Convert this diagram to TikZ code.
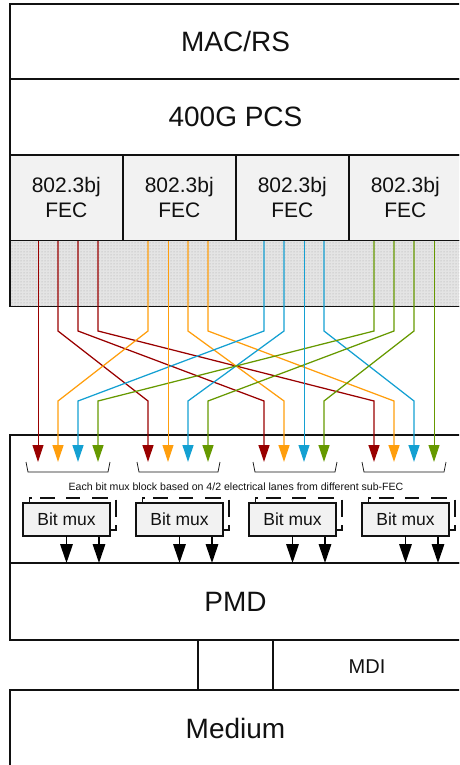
\documentclass[tikz,border=0pt]{standalone}
\usepackage{fontspec}
\setmainfont{Liberation Sans}
\usetikzlibrary{arrows.meta,calc,patterns}
\definecolor{boxgray}{HTML}{F2F2F2}
\definecolor{hatchgray}{HTML}{E4E4E4}
\definecolor{lred}{HTML}{990000}
\definecolor{lorange}{HTML}{FF9E0D}
\definecolor{lblue}{HTML}{14A0D2}
\definecolor{lgreen}{HTML}{669900}
\definecolor{inkc}{HTML}{111111}
\newcommand{\fs}[1]{\fontsize{#1}{#1}\selectfont}
\tikzset{
  blk/.style={draw=inkc,line width=1.7pt,rectangle,inner sep=0pt,outer sep=0pt,text=inkc,align=center},
  big/.style={font=\fs{28}},
  fec/.style={blk,fill=boxgray,minimum width=113pt,minimum height=85.5pt,font=\fontsize{21}{25}\selectfont},
  muxbox/.style={blk,fill=boxgray,minimum width=87pt,minimum height=33pt,font=\fs{17.5}},
  ghostline/.style={draw=inkc,line width=1.8pt},
  lane/.style={line width=1.25pt,-{Triangle[length=17pt,width=11pt]}},
  lanestraight/.style={line width=0.9pt,-{Triangle[length=17pt,width=11pt]}},
  outlane/.style={draw=black,line width=1.7pt,-{Triangle[length=19pt,width=12.5pt]}},
  bracket/.style={draw=inkc,line width=0.7pt},
  label/.style={inner sep=0pt,outer sep=0pt,text=inkc}
}
\begin{document}
\begin{tikzpicture}[x=1pt,y=-1pt]
\useasboundingbox (0,0) rectangle (459,765);
\clip (0,0) rectangle (459,765);
% stacked blocks
\node[blk,big,minimum width=451pt,minimum height=75.3pt] (mac) at (235.5,41.65) {MAC/RS};
\node[blk,big,minimum width=451pt,minimum height=75.7pt] (pcs) at (235.5,117.15) {400G PCS};
\node[fec] (fa) at (66.25,197.75) {802.3bj\\FEC};
\node[fec] (fb) at (179.25,197.75) {802.3bj\\FEC};
\node[fec] (fc) at (292.25,197.75) {802.3bj\\FEC};
\node[fec] (fd) at (405.25,197.75) {802.3bj\\FEC};
\node[blk,fill=hatchgray,minimum width=451pt,minimum height=66pt] (hatch) at (235.5,273.5) {};
\fill[pattern=dots,pattern color=gray!70] (hatch.north west) rectangle (hatch.south east);
\draw[draw=inkc,line width=1.7pt] (hatch.north west) rectangle (hatch.south east);
\node[blk,minimum width=451pt,minimum height=128pt] (mux) at (235.5,499) {};
\node[blk,big,minimum width=451pt,minimum height=77pt] (pmd) at (235.5,601.5) {PMD};
\node[blk,minimum width=75pt,minimum height=50pt] (port) at (235.5,665) {};
\node[label,font=\fs{20}] (mdi) at (367,667) {MDI};
\node[blk,big,minimum width=451pt,minimum height=76pt] (medium) at (235.5,728) {Medium};
% lanes
\coordinate (up) at (0,331);
\coordinate (lo) at (0,401);
\foreach \n/\x in {1/38,2/58,3/78,4/98,5/148,6/168,7/188,8/208,9/264,10/284,11/304,12/324,13/374,14/394,15/414,16/434}{
  \coordinate (s\n) at (\x,241);
  \coordinate (t\n) at (\x,462);
}
\foreach \a/\b/\c in {2/5/lred,3/9/lred,4/13/lred,5/2/lorange,7/10/lorange,8/14/lorange,9/3/lblue,10/7/lblue,12/15/lblue,13/4/lgreen,14/8/lgreen,15/12/lgreen}{
  \draw[lane,draw=\c] (s\a) -- (s\a |- up) -- (t\b |- lo) -- (t\b);
}
\foreach \a/\c in {1/lred,6/lorange,11/lblue,16/lgreen}{
  \draw[lanestraight,draw=\c] (s\a) -- (t\a);
}
% brackets
\foreach \l/\r in {26/110,137/220,253/337,362/446}{
  \draw[bracket] (\l,462) -- (\l+2,472) -- (\r-2,472) -- (\r,462);
}
\node[label,font=\fs{10.55}] (note) at (236,486.5) {Each bit mux block based on 4/2 electrical lanes from different sub-FEC};
% bit mux blocks
\foreach \n/\x in {1/66.5,2/179.5,3/292.5,4/405.5}{
  \draw[ghostline] (\x-37,504) -- (\x-37,498.3) -- (\x-35,498.3);
  \draw[ghostline] (\x-26.5,498.3) -- (\x-12,498.3);
  \draw[ghostline] (\x-0.5,498.3) -- (\x+13.5,498.3);
  \draw[ghostline] (\x+25.5,498.3) -- (\x+41.5,498.3);
  \draw[ghostline] (\x+49.5,499.5) -- (\x+49.5,517);
  \draw[ghostline] (\x+49.5,525) -- (\x+49.5,530) -- (\x+44,530);
  \draw[outlane] ([xshift=32.5pt]\x,536) -- ([xshift=32.5pt]\x,563);
  \node[muxbox] (b\n) at (\x,519.5) {Bit mux};
  \draw[outlane] (b\n.south) -- (b\n.south |- pmd.north);
}
\end{tikzpicture}
\end{document}
